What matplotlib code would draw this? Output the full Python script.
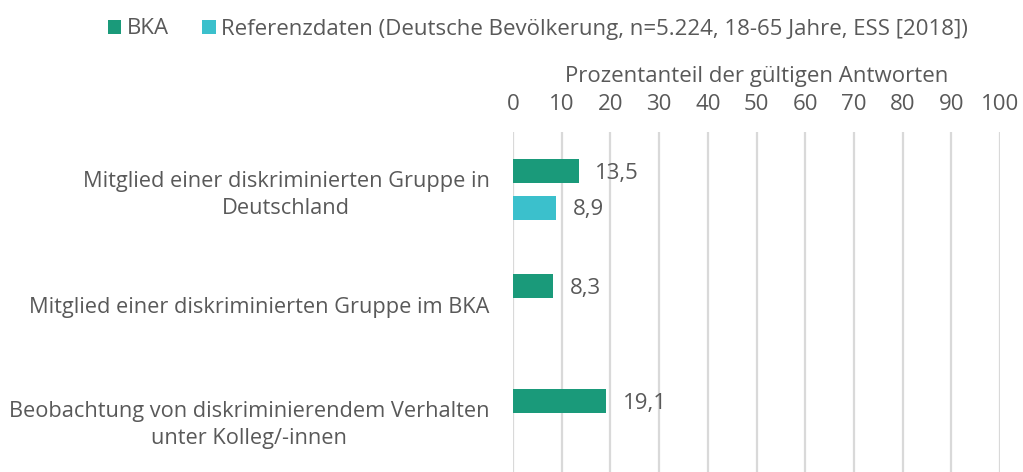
import matplotlib
matplotlib.use("Agg")
import numpy as np
import matplotlib.pyplot as plt

# Data
categories = [
    "Mitglied einer diskriminierten Gruppe in\nDeutschland",
    "Mitglied einer diskriminierten Gruppe im BKA",
    "Beobachtung von diskriminierendem Verhalten\nunter Kolleg/-innen",
]
bka = [13.5, 8.3, 19.1]
referenz = [8.9, None, None]
series_names = ["BKA", "Referenzdaten (Deutsche Bevölkerung, n=5.224, 18-65 Jahre, ESS [2018])"]
x_ticks = list(range(0, 101, 10))

col_bka = "#1a9a7a"
col_ref = "#3bc0cc"
txt = "#595959"
fs = 16

plt.rcParams["font.family"] = ["Open Sans", "DejaVu Sans"]

fig = plt.figure(figsize=(10.23, 4.72), dpi=100)
W, H = 1023, 472
ax_left, ax_right, ax_top = 513, 1000, 132
ax = fig.add_axes([ax_left / W, 0, (ax_right - ax_left) / W, 1 - ax_top / H])

y = np.arange(len(categories))
h = 0.21
off = 0.16

bars1 = ax.barh(y - off, bka, height=h, color=col_bka, label=series_names[0], zorder=3)
ref_y = [yy + off for yy, v in zip(y, referenz) if v is not None]
ref_v = [v for v in referenz if v is not None]
bars2 = ax.barh(ref_y, ref_v, height=h, color=col_ref, label=series_names[1], zorder=3)

def fmt(v):
    return f"{v:.1f}".replace(".", ",")

for bars in (bars1, bars2):
    for b in bars:
        v = b.get_width()
        ax.annotate(fmt(v), (v, b.get_y() + b.get_height() / 2), xytext=(12, -1.5),
                    textcoords="offset points", ha="left", va="center",
                    fontsize=fs, color=txt, zorder=4)

ax.set_xlim(0, 100)
ax.set_ylim(-0.5 + (H - ax_top) / 115, -0.5)
ax.set_xticks(x_ticks)
ax.xaxis.tick_top()
ax.xaxis.set_label_position("top")
ax.tick_params(axis="x", length=0, pad=12, labelsize=fs, labelcolor=txt)
ax.set_xlabel("Prozentanteil der gültigen Antworten", fontsize=fs, color=txt, labelpad=9)
ax.set_yticks(y)
ax.set_yticklabels(categories, fontsize=15.7, color=txt, multialignment="center",
                   linespacing=1.4)
ax.tick_params(axis="y", length=0, pad=17)
ax.grid(axis="x", color="#d9d9d9", linewidth=1.6, zorder=0)
for s in ax.spines.values():
    s.set_visible(False)

fig.legend(handles=[bars1, bars2], labels=series_names, loc="center",
           bbox_to_anchor=(538 / W, 1 - 29 / H), ncol=2, frameon=False,
           fontsize=fs, labelcolor=txt, handlelength=0.6, handleheight=0.6,
           handletextpad=0.25, columnspacing=1.5)

fig.savefig("out.png", dpi=100)
